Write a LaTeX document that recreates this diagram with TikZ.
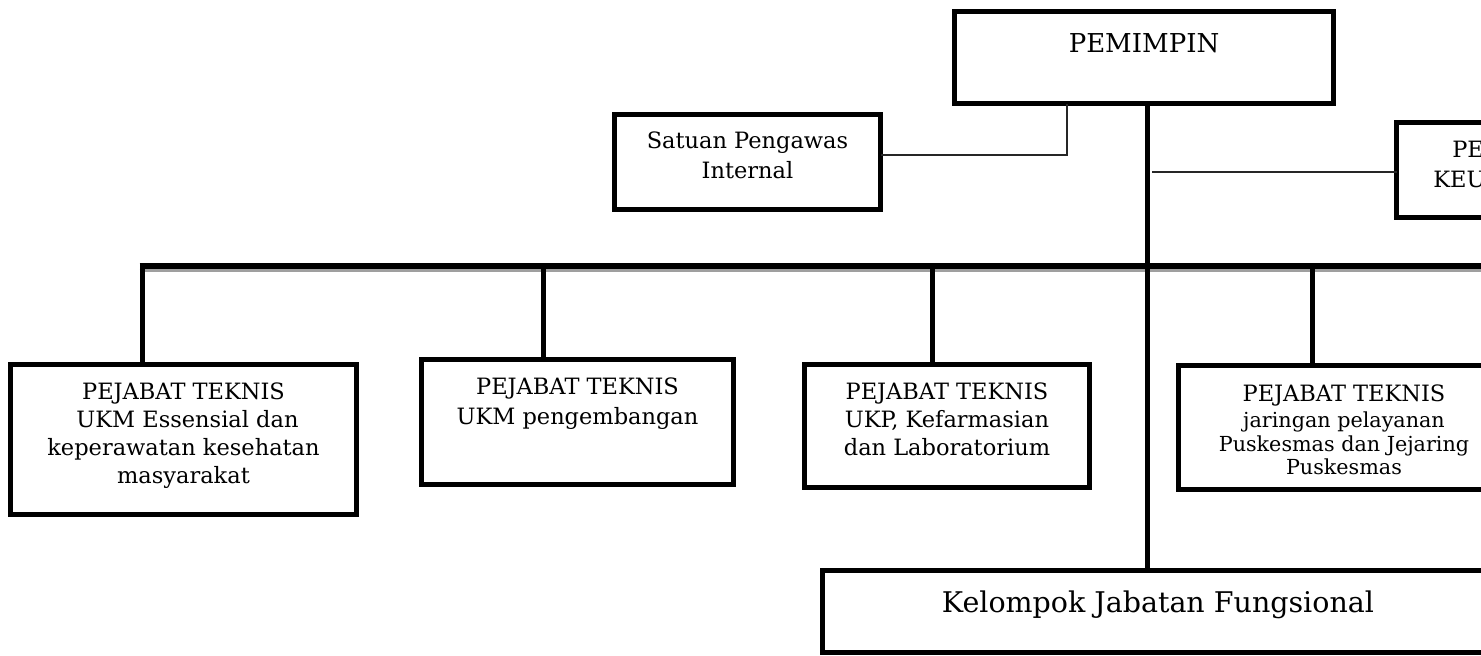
\documentclass[tikz,border=0pt]{standalone}
\usepackage{fontspec}
\setmainfont{DejaVu Serif}
\usetikzlibrary{calc}
\newcommand\orgtext[6]{\parbox[t][#1pt][t]{#2pt}{\centering\fontsize{#3}{#4}\selectfont\rule{0pt}{#5pt}#6\par}}
\tikzset{
  orgbox/.style={draw=black, line width=5pt, inner sep=0pt, outer sep=0pt, anchor=north west, rectangle},
  trunkline/.style={draw=black, line width=5pt},
  thinlink/.style={draw=black!85, line width=1.3pt},
}
\begin{document}
\begin{tikzpicture}[x=1pt,y=-1pt]
\useasboundingbox (0,0) rectangle (1481,656);
\fill[white] (0,0) rectangle (1481,656);
\clip (0,0) rectangle (1481,656);

% boxes
\node[orgbox] (pem) at (954.5,11.5) {\orgtext{92}{379}{26}{30}{40.5}{PEMIMPIN}};
\node[orgbox] (spi) at (614.5,114.5) {\orgtext{95}{266}{22.5}{30}{33.5}{Satuan Pengawas\\Internal}};
\node[orgbox] (keu) at (1396.5,122.5) {\orgtext{95}{215}{22.5}{30}{34.5}{PEJABAT\\KEUANGAN}};
\node[orgbox] (pt1) at (10.5,364.5) {\orgtext{150}{346}{22.5}{28}{34.5}{PEJABAT TEKNIS\\\hspace*{8pt}UKM Essensial dan\\keperawatan kesehatan\\masyarakat}};
\node[orgbox] (pt2) at (421.5,359.5) {\orgtext{125}{312}{22.5}{30}{34.5}{PEJABAT TEKNIS\\UKM pengembangan}};
\node[orgbox] (pt3) at (804.5,364.5) {\orgtext{123}{285}{22.5}{28}{34.5}{PEJABAT TEKNIS\\UKP, Kefarmasian\\dan Laboratorium}};
\node[orgbox] (pt4) at (1178.5,365.5) {\orgtext{124}{331}{22.5}{28}{35.5}{PEJABAT TEKNIS\\[3pt]{\fontsize{20.7}{23.5}\selectfont jaringan pelayanan\\Puskesmas dan Jejaring\\Puskesmas\par}}};
\node[orgbox] (kjf) at (822.5,570.5) {\orgtext{82}{671}{28.5}{32}{41.5}{Kelompok Jabatan Fungsional}};

% helper coordinates
\coordinate (trunk) at (1147,0);
\coordinate (busL) at (139.5,266);
\coordinate (busR) at (1500,266);
\coordinate (b1) at (142,266);
\coordinate (b2) at (543,266);
\coordinate (b3) at (932,266);
\coordinate (b4) at (1312,266);
\coordinate (spiC) at (1067,155);
\coordinate (keuC) at (1147,172);

% bus with shadow
\draw[gray!75, line width=3pt] ($(busL)+(0,4.5)$) -- ($(busR)+(0,4.5)$);
\draw[black, line width=6pt] (busL) -- (busR);

% trunk
\draw[trunkline] (trunk |- pem.south) -- (trunk |- kjf.north);

% branches
\draw[trunkline] (b1) -- (b1 |- pt1.north);
\draw[trunkline] (b2) -- (b2 |- pt2.north);
\draw[trunkline] (b3) -- (b3 |- pt3.north);
\draw[trunkline] (b4) -- (b4 |- pt4.north);

% thin links
\draw[thinlink] (spiC -| spi.east) -- (spiC) -- (spiC |- pem.south);
\draw[thinlink] ($(keuC)+(5,0)$) -- (keuC -| keu.west);
\end{tikzpicture}
\end{document}
